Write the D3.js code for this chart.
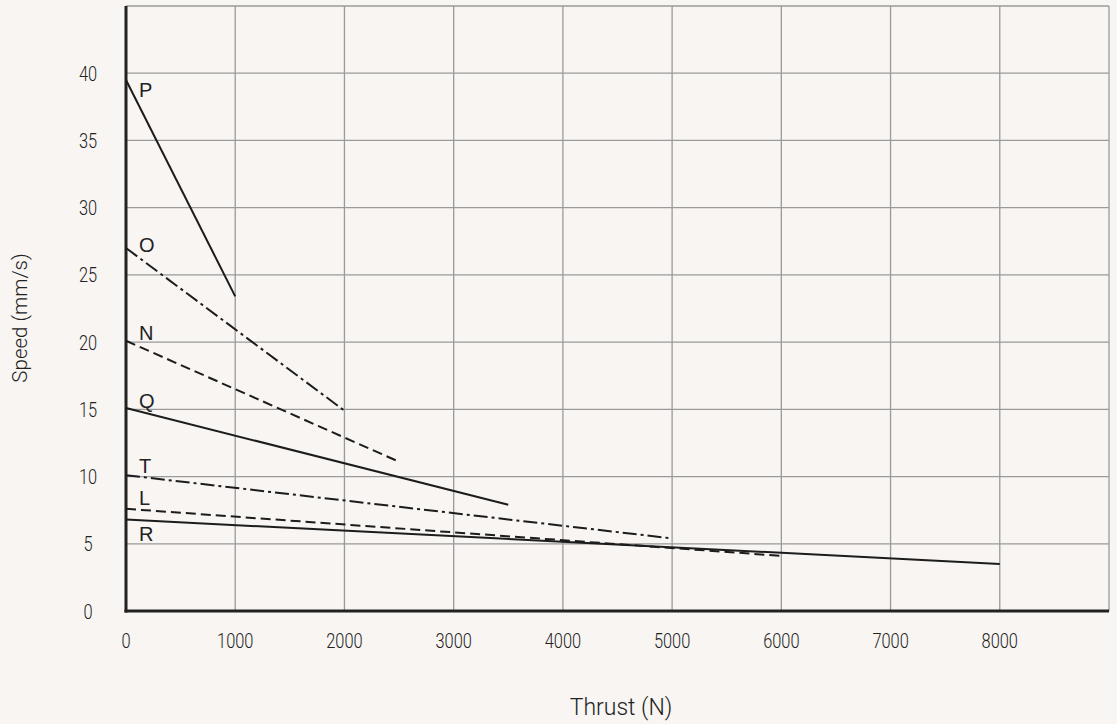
<!doctype html>
<html lang="en">
  <head>
    <meta charset="UTF-8" />
    <title>Speed vs Thrust</title>
    <style>
      html, body { margin: 0; padding: 0; background: #f8f5f2; }
      svg { display: block; }
      .tick-label { font-family: Roboto, "Liberation Sans", sans-serif; font-weight: 300; font-size: 20.5px; fill: #222; }
      .axis-title { font-family: Roboto, "Liberation Sans", sans-serif; font-weight: 300; fill: #222; }
      .series-label { font-family: "Liberation Sans", sans-serif; font-size: 20px; fill: #222; }
    </style>
  </head>
  <body>
    <div id="target"></div>
    <script src="https://d3js.org/d3.v7.min.js"></script>
    <script>
      /* global d3 */

      // series: name, thrust range (N), speed at each end (mm/s)
      const seriesNames = ["P", "O", "N", "Q", "T", "L", "R"];
      const thrustStart = [0, 0, 0, 0, 0, 0, 0];
      const thrustEnd = [1000, 2000, 2500, 3500, 5000, 6000, 8000];
      const speedStart = [39.5, 27.0, 20.1, 15.1, 10.1, 7.6, 6.8];
      const speedEnd = [23.4, 14.9, 11.1, 7.9, 5.4, 4.1, 3.5];
      const lineStyles = ["solid", "dashdot", "dashed", "solid", "dashdot", "dashed", "solid"];

      const xTicks = [0, 1000, 2000, 3000, 4000, 5000, 6000, 7000, 8000];
      const yTicks = [0, 5, 10, 15, 20, 25, 30, 35, 40];

      const width = 1117,
        height = 724;

      const x = d3.scaleLinear().domain([0, 9000]).range([126, 1109]);
      const y = d3.scaleLinear().domain([0, 45]).range([611, 6]);

      const svg = d3
        .select("#target")
        .append("svg")
        .attr("width", width)
        .attr("height", height)
        .attr("viewBox", [0, 0, width, height]);

      svg.append("rect").attr("width", width).attr("height", height).attr("fill", "#f8f5f2");

      // grid
      const grid = svg.append("g").attr("stroke", "#9a9a9a").attr("stroke-width", 1.3);
      grid
        .selectAll("line.v")
        .data(d3.range(1000, 9001, 1000))
        .join("line")
        .attr("class", "v")
        .attr("x1", (d) => x(d))
        .attr("x2", (d) => x(d))
        .attr("y1", y(45))
        .attr("y2", y(0));
      grid
        .selectAll("line.h")
        .data(d3.range(5, 46, 5))
        .join("line")
        .attr("class", "h")
        .attr("x1", x(0))
        .attr("x2", x(9000))
        .attr("y1", (d) => y(d))
        .attr("y2", (d) => y(d));

      // axes (drawn as thick lines, labels placed by scale)
      const axes = svg.append("g").attr("stroke", "#222").attr("stroke-width", 3);
      axes.append("line").attr("x1", x(0)).attr("x2", x(0)).attr("y1", y(45)).attr("y2", y(0) + 1.5);
      axes.append("line").attr("x1", x(0) - 1.5).attr("x2", x(9000)).attr("y1", y(0)).attr("y2", y(0));

      // tick labels are a condensed face, so squeeze them horizontally
      svg
        .append("g")
        .selectAll("text")
        .data(xTicks)
        .join("text")
        .attr("class", "tick-label")
        .attr("transform", (d) => `translate(${x(d)}, 647.5) scale(0.8, 1)`)
        .attr("text-anchor", "middle")
        .text((d) => d);

      svg
        .append("g")
        .selectAll("text")
        .data(yTicks)
        .join("text")
        .attr("class", "tick-label")
        .attr("transform", (d) => `translate(88, ${y(d) + 7.5}) scale(0.8, 1)`)
        .attr("text-anchor", "middle")
        .text((d) => d);

      svg
        .append("text")
        .attr("class", "axis-title")
        .attr("x", 621)
        .attr("y", 715)
        .attr("font-size", 23)
        .attr("text-anchor", "middle")
        .text("Thrust (N)");

      svg
        .append("text")
        .attr("class", "axis-title")
        .attr("font-size", 20.5)
        .attr("transform", "translate(27, 318) rotate(-90)")
        .attr("text-anchor", "middle")
        .text("Speed (mm/s)");

      // series
      const dashes = { solid: null, dashed: "10,5", dashdot: "14,4,3,4" };
      const series = seriesNames.map((name, i) => ({
        name,
        style: lineStyles[i],
        points: [
          [thrustStart[i], speedStart[i]],
          [thrustEnd[i], speedEnd[i]],
        ],
      }));

      const line = d3
        .line()
        .x((d) => x(d[0]))
        .y((d) => y(d[1]));

      svg
        .append("g")
        .selectAll("path")
        .data(series)
        .join("path")
        .attr("d", (d) => line(d.points))
        .attr("fill", "none")
        .attr("stroke", "#1c1c1c")
        .attr("stroke-width", 2)
        .attr("stroke-dasharray", (d) => dashes[d.style]);

      // label baseline offset from the start of each line, px
      const labelDy = { P: 17, O: 4, N: -1, Q: 0, T: -2, L: -4, R: 21 };
      svg
        .append("g")
        .selectAll("text")
        .data(series)
        .join("text")
        .attr("class", "series-label")
        .attr("x", x(0) + 13)
        .attr("y", (d) => y(d.points[0][1]) + labelDy[d.name])
        .text((d) => d.name);
    </script>
  </body>
</html>
